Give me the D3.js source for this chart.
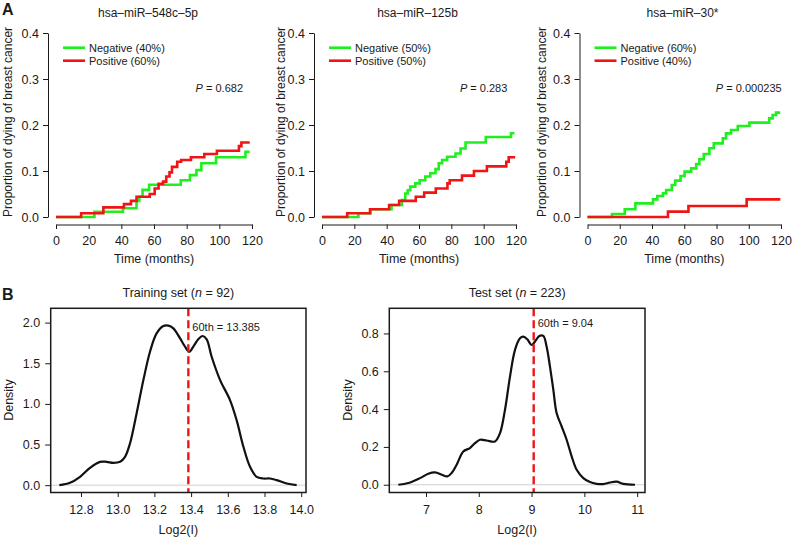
<!DOCTYPE html>
<html><head><meta charset="utf-8">
<script src="https://cdn.jsdelivr.net/npm/d3@7/dist/d3.min.js"></script>
<style>
body{margin:0;background:#fff}
svg{display:block}
text{font-family:"Liberation Sans",Arial,Helvetica,sans-serif;fill:#1a1a1a}
</style>
</head><body>
<svg id="c" width="792" height="538"></svg>
<script>
// ---------- DATA ----------
const kmTitles = ["hsa\u2013miR\u2013548c\u20135p", "hsa\u2013miR\u2013125b", "hsa\u2013miR\u201330*"];
const negLabels = ["Negative (40%)", "Negative (50%)", "Negative (60%)"];
const posLabels = ["Positive (60%)", "Positive (50%)", "Positive (40%)"];
const pValues = ["0.682", "0.283", "0.000235"];
const kmTimeTicks = [0, 20, 40, 60, 80, 100, 120];
const kmPropTicks = [0, 0.1, 0.2, 0.3, 0.4];

// [time (months), cumulative proportion] step points
const neg548 = [[0,0],[23.5,0.0115],[41,0.019],[49.3,0.035],[51,0.044],[53,0.059],[57,0.07],[76.4,0.08],[82,0.091],[86,0.102],[89,0.117],[98,0.13],[116,0.142],[118.6,0.142]];
const pos548 = [[0,0],[15.4,0.008],[29,0.021],[41.6,0.028],[45.9,0.035],[49.3,0.044],[57.4,0.05],[60.4,0.062],[62.8,0.072],[65.5,0.077],[67.5,0.088],[69.5,0.097],[71,0.109],[74.2,0.12],[76.6,0.124],[82.6,0.13],[90.8,0.137],[98.5,0.144],[112,0.154],[113.5,0.162],[118.6,0.162]];
const neg125 = [[0,0],[22.5,0.008],[30,0.017],[43,0.026],[49.4,0.037],[51.5,0.051],[53,0.058],[54.6,0.066],[57.7,0.073],[60.4,0.08],[63.9,0.088],[67,0.095],[70.2,0.104],[72.2,0.117],[74.3,0.124],[77.4,0.131],[82.6,0.138],[85.7,0.149],[88.8,0.162],[101.3,0.174],[116.9,0.182],[119,0.182]];
const pos125 = [[0,0],[15.6,0.008],[29.7,0.017],[41.5,0.026],[47.7,0.035],[58,0.044],[63.2,0.053],[70.4,0.062],[77.6,0.073],[79,0.08],[86.6,0.09],[94,0.1],[102,0.11],[114,0.12],[115.5,0.13],[119.5,0.13]];
const neg30 = [[0,0],[15.2,0.0065],[23.1,0.0167],[29.7,0.0297],[40.6,0.0384],[43.3,0.0457],[46.8,0.0514],[48.8,0.0587],[52.3,0.0696],[54.4,0.079],[57.7,0.0891],[60.2,0.0986],[64.3,0.1058],[67.4,0.1152],[69.4,0.1254],[72.1,0.137],[75.6,0.1493],[78.3,0.1601],[83.9,0.171],[85.9,0.1819],[89,0.1891],[93.2,0.1978],[100.4,0.2051],[112.7,0.2145],[114.8,0.2217],[116.9,0.2268],[119.5,0.2268]];
const pos30 = [[0,0],[49.9,0.0116],[62.6,0.0239],[98.7,0.0384],[119.6,0.0384]];

const densTitles = ["Training set", "Test set"];
const densN = ["92", "223"];
const cutLabels = ["60th = 13.385", "60th = 9.04"];
const cutValues = [13.385, 9.04];
const trainTicksX = [12.8, 13.0, 13.2, 13.4, 13.6, 13.8, 14.0];
const trainTicksY = [0, 0.5, 1.0, 1.5, 2.0];
const testTicksX = [7, 8, 9, 10, 11];
const testTicksY = [0, 0.2, 0.4, 0.6, 0.8];
// [Log2(I), density]
const trainDensity = [[12.682,0],[12.74,0.029],[12.795,0.103],[12.849,0.213],[12.904,0.287],[12.94,0.287],[12.976,0.275],[13.013,0.287],[13.04,0.349],[13.067,0.513],[13.103,0.883],[13.14,1.293],[13.176,1.642],[13.212,1.868],[13.249,1.958],[13.276,1.962],[13.303,1.929],[13.34,1.806],[13.367,1.704],[13.39,1.642],[13.412,1.704],[13.439,1.794],[13.463,1.835],[13.485,1.794],[13.512,1.58],[13.558,1.293],[13.612,1.047],[13.648,0.8],[13.685,0.472],[13.721,0.226],[13.757,0.103],[13.794,0.082],[13.83,0.082],[13.866,0.062],[13.921,0.021],[13.975,0]];
const testDensity = [[6.476,0],[6.665,0.009],[6.886,0.035],[7.044,0.058],[7.17,0.065],[7.297,0.053],[7.404,0.044],[7.486,0.062],[7.581,0.106],[7.707,0.176],[7.833,0.194],[7.928,0.22],[8.023,0.238],[8.149,0.234],[8.307,0.229],[8.402,0.273],[8.496,0.396],[8.591,0.572],[8.686,0.713],[8.78,0.774],[8.843,0.783],[8.919,0.769],[9.001,0.739],[9.064,0.757],[9.146,0.787],[9.222,0.787],[9.285,0.73],[9.348,0.625],[9.412,0.502],[9.475,0.378],[9.57,0.308],[9.664,0.238],[9.759,0.15],[9.854,0.079],[9.98,0.035],[10.106,0.014],[10.232,0.005],[10.358,0.0035],[10.485,0.012],[10.611,0.016],[10.737,0.005],[10.958,0]];

// ---------- DRAW ----------
const svg = d3.select("#c");
const GREEN = "#1fef1f", RED = "#f01414", INK = "#1a1a1a";

svg.append("text").attr("x", 2).attr("y", 15).attr("font-size", 16).attr("font-weight", "bold").text("A");
svg.append("text").attr("x", 2).attr("y", 300).attr("font-size", 16).attr("font-weight", "bold").text("B");

const kmPanels = [
  {x0: 56, w: 196, title: 148, ylab: 11.5, neg: neg548, pos: pos548},
  {x0: 322, w: 194, title: 417.5, ylab: 285, neg: neg125, pos: pos125},
  {x0: 587.5, w: 193.5, title: 682.5, ylab: 546, neg: neg30, pos: pos30}
];

kmPanels.forEach((p, i) => {
  const x = d3.scaleLinear().domain([0, 120]).range([p.x0, p.x0 + p.w]);
  const y = d3.scaleLinear().domain([0, 0.4]).range([217, 33]);
  const g = svg.append("g");
  const ya = g.append("g").attr("transform", `translate(${p.x0 - 8},0)`)
    .call(d3.axisLeft(y).tickValues(kmPropTicks).tickFormat(d3.format(".1f")).tickSize(5).tickSizeOuter(0).tickPadding(4));
  const xa = g.append("g").attr("transform", `translate(0,224.5)`)
    .call(d3.axisBottom(x).tickValues(kmTimeTicks).tickFormat(d3.format("d")).tickSize(4.5).tickSizeOuter(0).tickPadding(7.5));
  [ya, xa].forEach(a => {
    a.selectAll("path,line").attr("stroke", INK).attr("stroke-width", 1);
    a.selectAll("text").attr("font-size", 12.5).attr("font-family", '"Liberation Sans",Arial,sans-serif').attr("fill", INK);
  });
  g.append("text").attr("x", p.title).attr("y", 17).attr("text-anchor", "middle").attr("font-size", 12).text(kmTitles[i]);
  g.append("text").attr("x", (x(0) + x(120)) / 2).attr("y", 263).attr("text-anchor", "middle").attr("font-size", 12.5).text("Time (months)");
  g.append("text").attr("transform", `translate(${p.ylab},122) rotate(-90)`).attr("text-anchor", "middle").attr("font-size", 12).text("Proportion of dying of breast cancer");

  const line = d3.line().x(d => x(d[0])).y(d => y(d[1])).curve(d3.curveStepAfter);
  g.append("path").attr("d", line(p.neg)).attr("fill", "none").attr("stroke", GREEN).attr("stroke-width", 2.6);
  g.append("path").attr("d", line(p.pos)).attr("fill", "none").attr("stroke", RED).attr("stroke-width", 2.6);

  // legend
  [[GREEN, negLabels[i], 47.7], [RED, posLabels[i], 60.7]].forEach(([c, t, yy]) => {
    g.append("line").attr("x1", p.x0 + 7).attr("x2", p.x0 + 29).attr("y1", yy).attr("y2", yy).attr("stroke", c).attr("stroke-width", 2.6);
    g.append("text").attr("x", p.x0 + 33).attr("y", yy).attr("dy", "0.35em").attr("font-size", 11).text(t);
  });
  const pt = g.append("text").attr("x", x(100)).attr("y", y(0.28)).attr("dy", "0.35em").attr("text-anchor", "middle").attr("font-size", 11);
  pt.append("tspan").attr("font-style", "italic").text("P");
  pt.append("tspan").text(" = " + pValues[i]);
});

const densPanels = [
  {left: 50.7, right: 306, xd: [12.635, 14.026], yd: [-0.09, 2.176], tx: trainTicksX, ty: trainTicksY, fx: ".1f", fy: ".1f", data: trainDensity, ylab: 13, labY: 331},
  {left: 389.3, right: 645, xd: [6.305, 11.148], yd: [-0.041, 0.933], tx: testTicksX, ty: testTicksY, fx: "d", fy: ".1f", data: testDensity, ylab: 352, labY: 327}
];
const TOP = 308.3, BOT = 492.5;
densPanels.forEach((p, i) => {
  const x = d3.scaleLinear().domain(p.xd).range([p.left, p.right]);
  const y = d3.scaleLinear().domain(p.yd).range([BOT, TOP]);
  const g = svg.append("g");
  // zero line
  g.append("line").attr("x1", p.left).attr("x2", p.right).attr("y1", y(0)).attr("y2", y(0)).attr("stroke", "#d0d0d0").attr("stroke-width", 1);
  const ya = g.append("g").attr("transform", `translate(${p.left},0)`)
    .call(d3.axisLeft(y).tickValues(p.ty).tickFormat(d3.format(p.fy)).tickSize(5.5).tickSizeOuter(0).tickPadding(5));
  const xa = g.append("g").attr("transform", `translate(0,${BOT})`)
    .call(d3.axisBottom(x).tickValues(p.tx).tickFormat(d3.format(p.fx)).tickSize(4.5).tickSizeOuter(0).tickPadding(8));
  [ya, xa].forEach(a => {
    a.select(".domain").remove();
    a.selectAll("line").attr("stroke", INK).attr("stroke-width", 1);
    a.selectAll("text").attr("font-size", 12.5).attr("font-family", '"Liberation Sans",Arial,sans-serif').attr("fill", INK);
  });
  const line = d3.line().x(d => x(d[0])).y(d => y(d[1])).curve(d3.curveCatmullRom.alpha(0.5));
  g.append("path").attr("d", line(p.data)).attr("fill", "none").attr("stroke", "#111").attr("stroke-width", 2.2);
  g.append("line").attr("x1", x(cutValues[i])).attr("x2", x(cutValues[i])).attr("y1", TOP).attr("y2", BOT)
    .attr("stroke", RED).attr("stroke-width", 2.4).attr("stroke-dasharray", "8,4");
  g.append("text").attr("x", x(cutValues[i]) + 4).attr("y", p.labY).attr("font-size", 11).text(cutLabels[i]);
  g.append("rect").attr("x", p.left).attr("y", TOP).attr("width", p.right - p.left).attr("height", BOT - TOP)
    .attr("fill", "none").attr("stroke", INK).attr("stroke-width", 1.5);
  const cx = (p.left + p.right) / 2;
  const tt = g.append("text").attr("x", cx).attr("y", 297).attr("text-anchor", "middle").attr("font-size", 12.5);
  tt.append("tspan").text(densTitles[i] + " (");
  tt.append("tspan").attr("font-style", "italic").text("n");
  tt.append("tspan").text(" = " + densN[i] + ")");
  g.append("text").attr("x", cx).attr("y", 534).attr("text-anchor", "middle").attr("font-size", 12.5).text("Log2(I)");
  g.append("text").attr("transform", `translate(${p.ylab},400) rotate(-90)`).attr("text-anchor", "middle").attr("font-size", 12.5).text("Density");
});
</script>
</body></html>
